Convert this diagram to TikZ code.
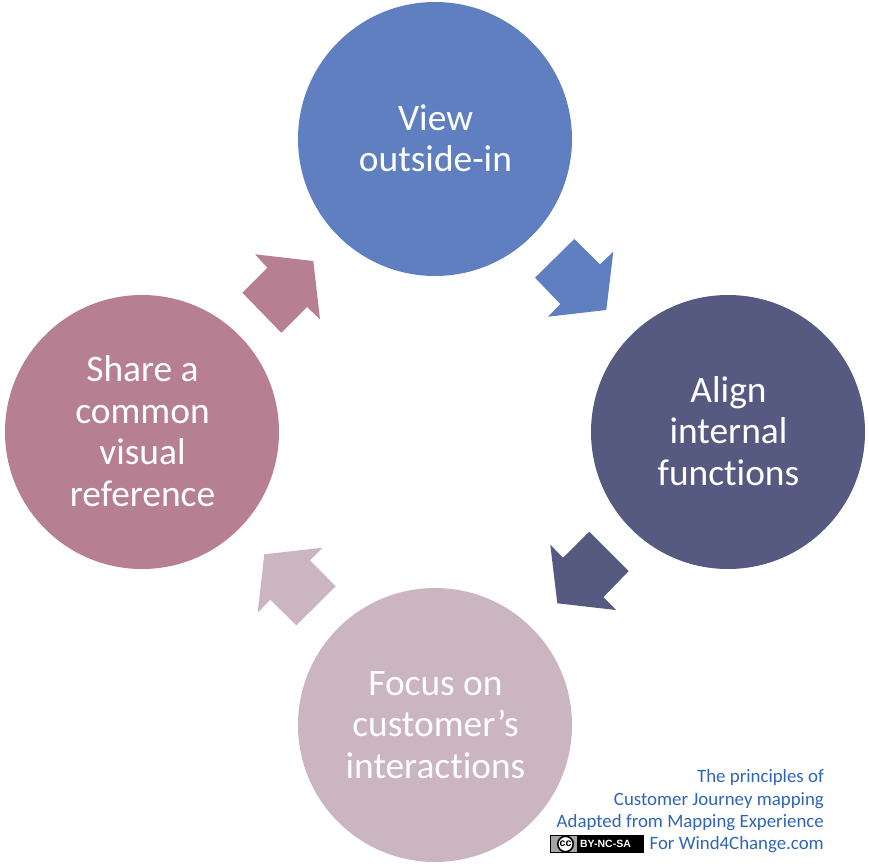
\documentclass[tikz,border=0pt]{standalone}
\usepackage{fontspec}
\setmainfont[Ligatures=NoCommon]{Carlito}
\newfontfamily\badgefont{Liberation Sans}
\usetikzlibrary{calc, positioning}

\definecolor{viewblue}{HTML}{5F7FC0}
\definecolor{aligndark}{HTML}{565A81}
\definecolor{focuslight}{HTML}{CAB5C1}
\definecolor{sharemauve}{HTML}{B68092}
\definecolor{creditblue}{HTML}{2F65B5}

\tikzset{
	stage/.style = {circle, minimum size = 274pt, inner sep = 0pt, align = center, text = white, font = \fontsize{37.4}{41.5}\selectfont},
	wording/.style = {align = center, inner sep = 0pt, text = white, font = \fontsize{37.4}{41.5}\selectfont},
	credit/.style = {align = right, inner sep = 0pt, anchor = east, text = creditblue, font = \fontsize{18.85}{22.3}\selectfont},
}

\begin{document}
\begin{tikzpicture}[x = 1pt, y = -1pt]
	\useasboundingbox (0,0) rectangle (869,867);

	\node [stage, fill = viewblue] (view) at (435,139) {};
	\node [wording] (view text) at (435.5,138.2) {View\\outside-in};
	\node [stage, fill = aligndark] (align) at (728,432) {};
	\node [wording] (align text) at (728.5,430.8) {Align\\internal\\functions};
	\node [stage, fill = focuslight] (focus) at (435,725) {};
	\node [wording] (focus text) at (435.5,725) {Focus on\\customer’s\\interactions};
	\node [stage, fill = sharemauve] (share) at (142,432) {};
	\node [wording] (share text) at (142.5,431) {Share a\\common\\visual\\reference};

	\fill [viewblue] (574.3,239) -- (600,264.3) -- (613.3,251.7) -- (606.3,310) -- (548,316.7) -- (560.3,304) -- (535,277.7) -- cycle;
	\fill [aligndark] (628.7,571) -- (603.3,597.3) -- (616,610) -- (557.3,603.3) -- (550.3,544.7) -- (563,557.7) -- (589.3,531.7) -- cycle;
	\fill [focuslight] (296.3,625.3) -- (270.3,599.7) -- (257.7,612.7) -- (264.3,554.3) -- (322.7,547.7) -- (310,560.3) -- (335.7,586.3) -- cycle;
	\fill [sharemauve] (242.3,292.7) -- (267.3,267.7) -- (255,254.3) -- (313.3,261) -- (320,319.3) -- (307,307) -- (281.3,332.7) -- cycle;

	\node [credit] (principles) at (824,811.5) {The principles of\\Customer Journey mapping\\Adapted from Mapping Experience\\For Wind4Change.com};

	% licence badge
	\fill [black] (550,835) rectangle (644,853);
	\fill [black!35] (551,836) rectangle (577,852);
	\node [circle, draw = black, line width = 1.6pt, fill = white, minimum size = 15.5pt, inner sep = 0pt, font = \badgefont\fontsize{10.5}{10.5}\bfseries\selectfont] (cc) at (565.5,844) {cc};
	\node [inner sep = 0pt, text = white, font = \badgefont\fontsize{10.5}{10.5}\bfseries\selectfont] (terms) at (605.5,844) {BY-NC-SA};
\end{tikzpicture}
\end{document}
